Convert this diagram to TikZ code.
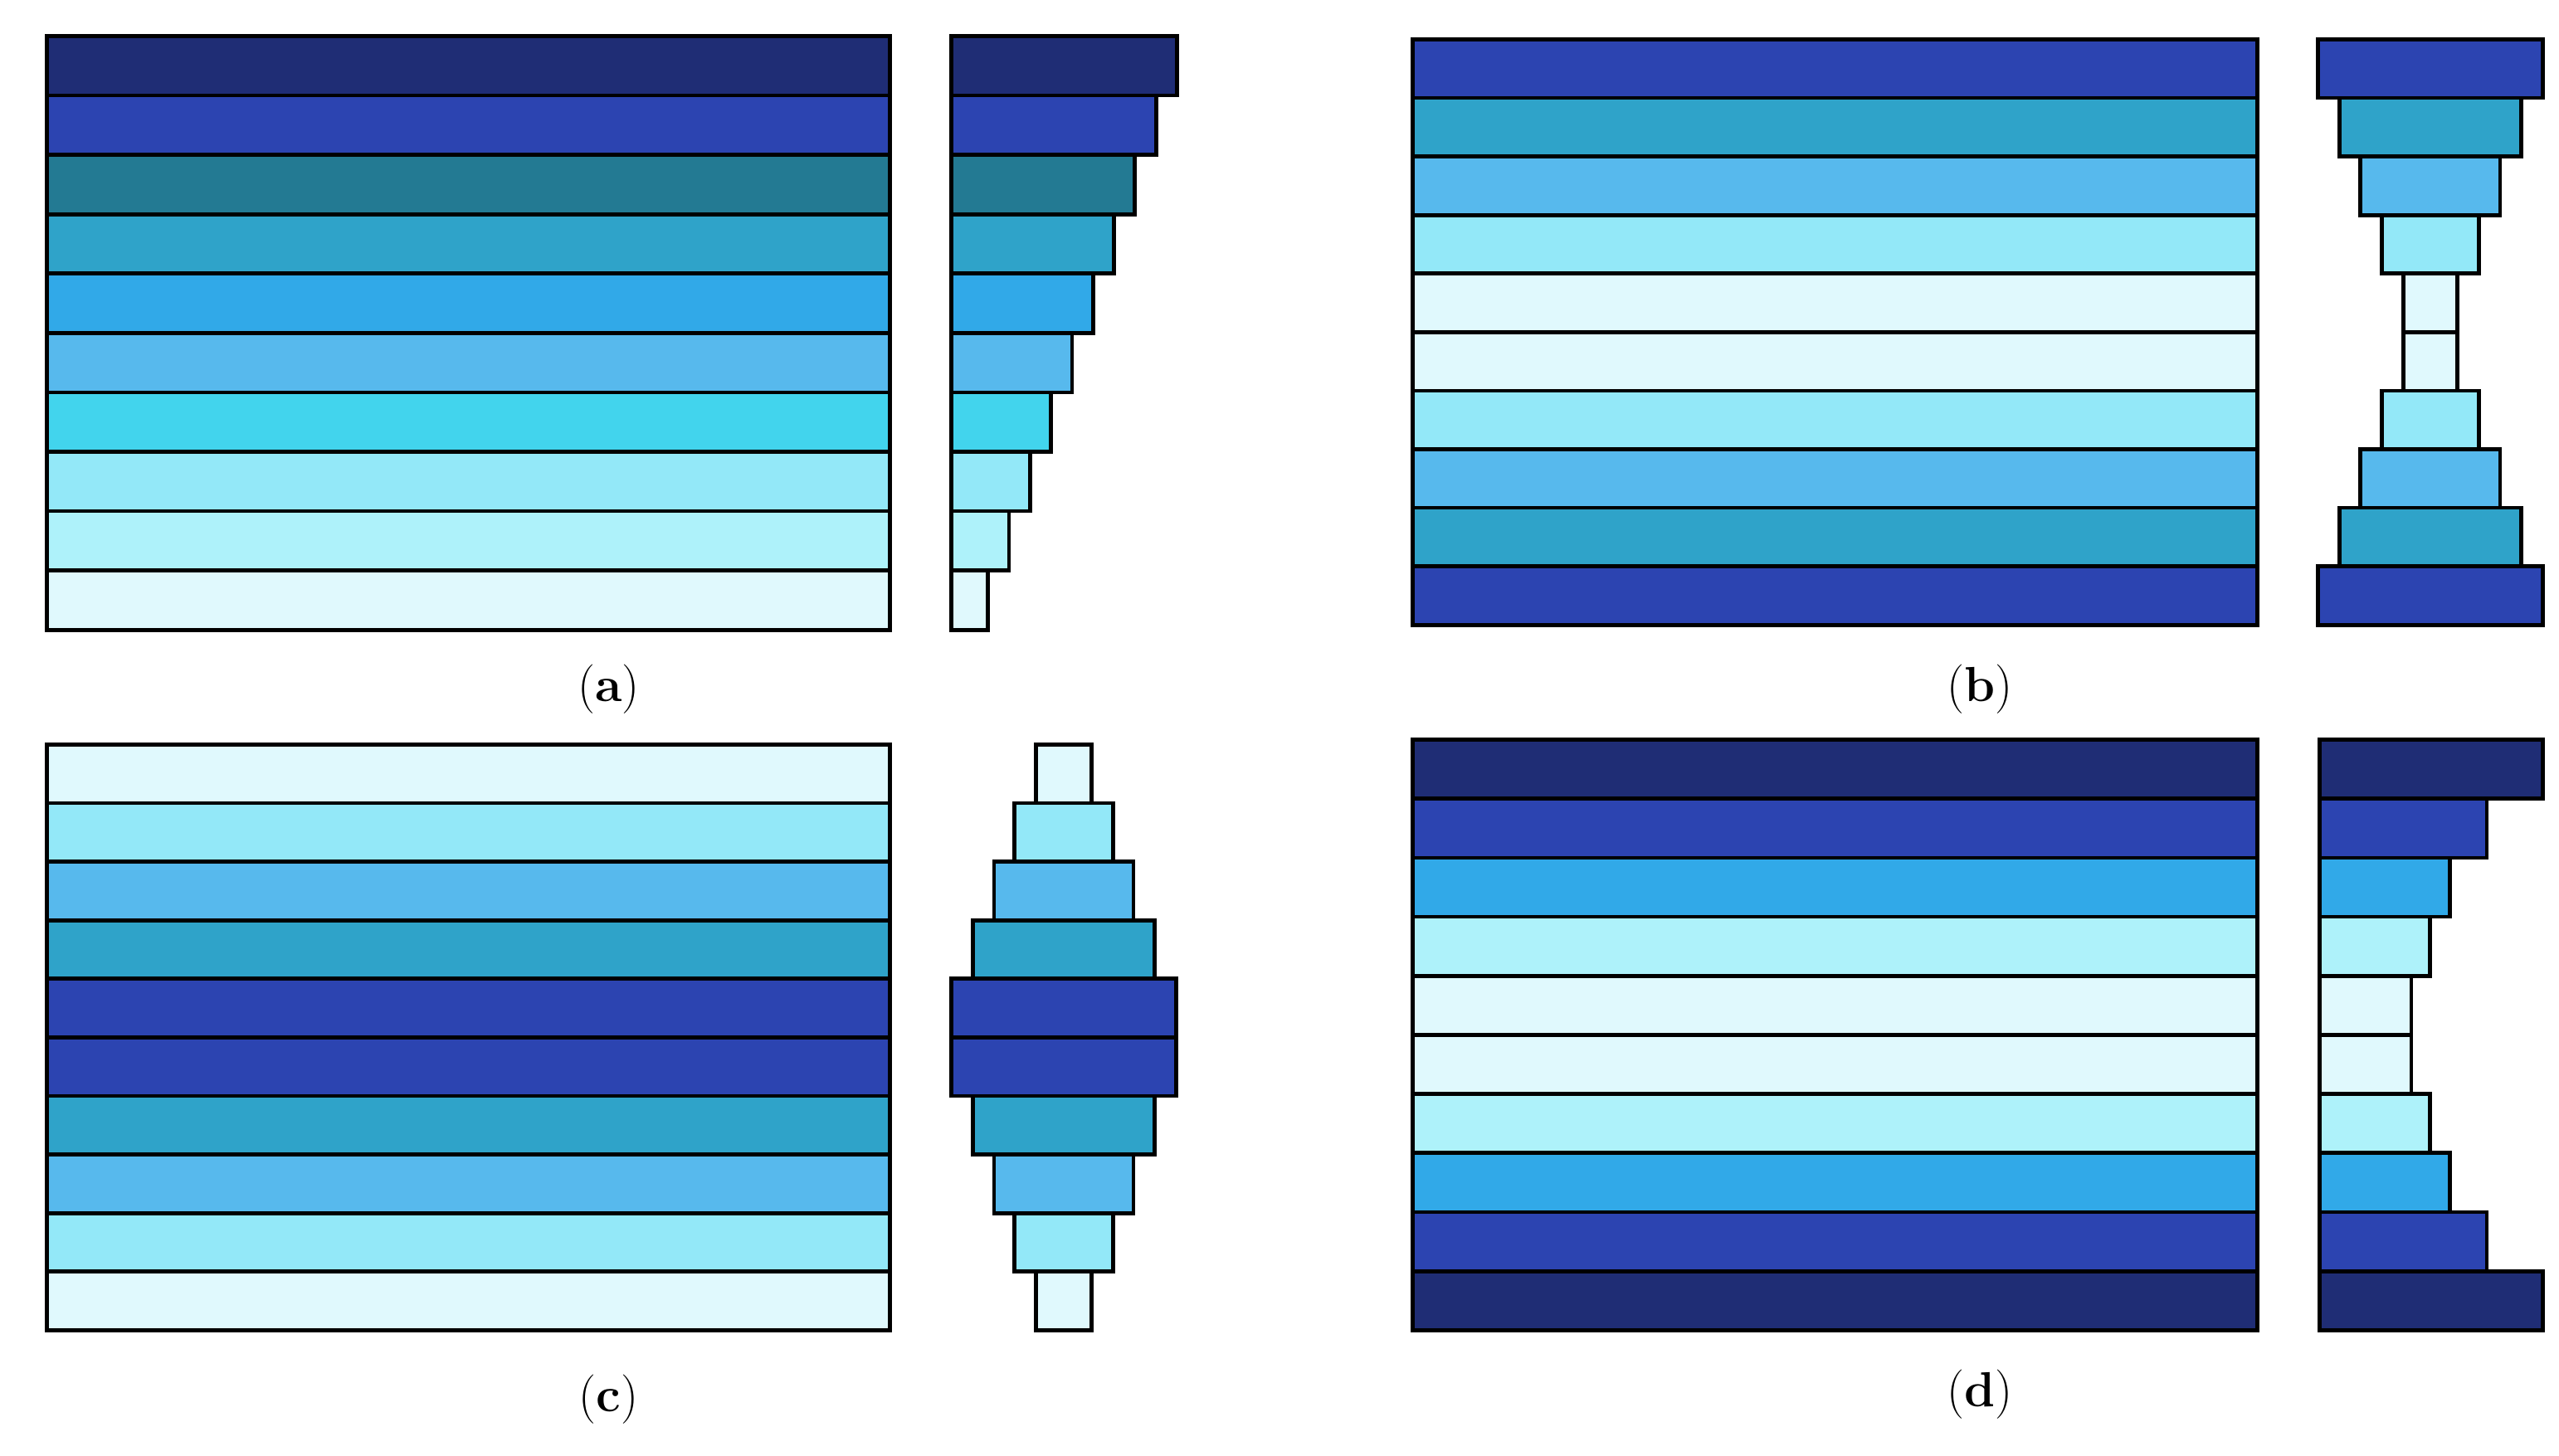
\documentclass[tikz,border=0pt]{standalone}
\begin{document}
\begin{tikzpicture}[x=1pt,y=-1pt,bar/.style={draw=black,line width=2.4pt,line join=miter}]
\definecolor{c1}{HTML}{1F2D75}\definecolor{c2}{HTML}{2C44B1}\definecolor{c3}{HTML}{237A93}
\definecolor{c4}{HTML}{2FA3C9}\definecolor{c5}{HTML}{31A9E8}\definecolor{c6}{HTML}{57B9ED}
\definecolor{c7}{HTML}{42D4ED}\definecolor{c8}{HTML}{93E8F8}\definecolor{c9}{HTML}{AEF2FA}
\definecolor{c10}{HTML}{E0F9FD}
\useasboundingbox[fill=white] (0,0) rectangle (1560,887.7);
% (a)
\foreach \c [count=\i from 0] in {c1,c2,c3,c4,c5,c6,c7,c8,c9,c10}{
  \pgfmathsetmacro\ya{22+\i*36.2}\pgfmathsetmacro\yb{\ya+36.2}
  \pgfmathsetmacro\xr{717.5-\i*12.8}
  \draw[bar,fill=\c] (28.5,\ya) rectangle (542.5,\yb);
  \draw[bar,fill=\c] (580,\ya) rectangle (\xr,\yb);}
% (b)
\foreach \c/\w [count=\i from 0] in {c2/68.5,c4/55.5,c6/42.5,c8/29.5,c10/16.5,c10/16.5,c8/29.5,c6/42.5,c4/55.5,c2/68.5}{
  \pgfmathsetmacro\ya{24+\i*35.7}\pgfmathsetmacro\yb{\ya+35.7}
  \draw[bar,fill=\c] (861,\ya) rectangle (1376,\yb);
  \draw[bar,fill=\c] (1481.5-\w,\ya) rectangle (1481.5+\w,\yb);}
% (c)
\foreach \c/\w [count=\i from 0] in {c10/17,c8/30,c6/42.5,c4/55.5,c2/68.5,c2/68.5,c4/55.5,c6/42.5,c8/30,c10/17}{
  \pgfmathsetmacro\ya{454+\i*35.7}\pgfmathsetmacro\yb{\ya+35.7}
  \draw[bar,fill=\c] (28.5,\ya) rectangle (542.5,\yb);
  \draw[bar,fill=\c] (648.5-\w,\ya) rectangle (648.5+\w,\yb);}
% (d)
\foreach \c/\xr [count=\i from 0] in {c1/1550,c2/1516,c5/1493.5,c9/1481.5,c10/1470,c10/1470,c9/1481.5,c5/1493.5,c2/1516,c1/1550}{
  \pgfmathsetmacro\ya{451+\i*36}\pgfmathsetmacro\yb{\ya+36}
  \draw[bar,fill=\c] (861,\ya) rectangle (1376,\yb);
  \draw[bar,fill=\c] (1414,\ya) rectangle (\xr,\yb);}
\tikzset{lab/.style={font=\fontsize{30}{36}\selectfont,inner sep=0}}
\node[lab] (la) at (371,420) {(\textbf{a})};
\node[lab] (lb) at (1207,420) {(\textbf{b})};
\node[lab] (lc) at (371,853) {(\textbf{c})};
\node[lab] (ld) at (1207,850) {(\textbf{d})};
\end{tikzpicture}
\end{document}
